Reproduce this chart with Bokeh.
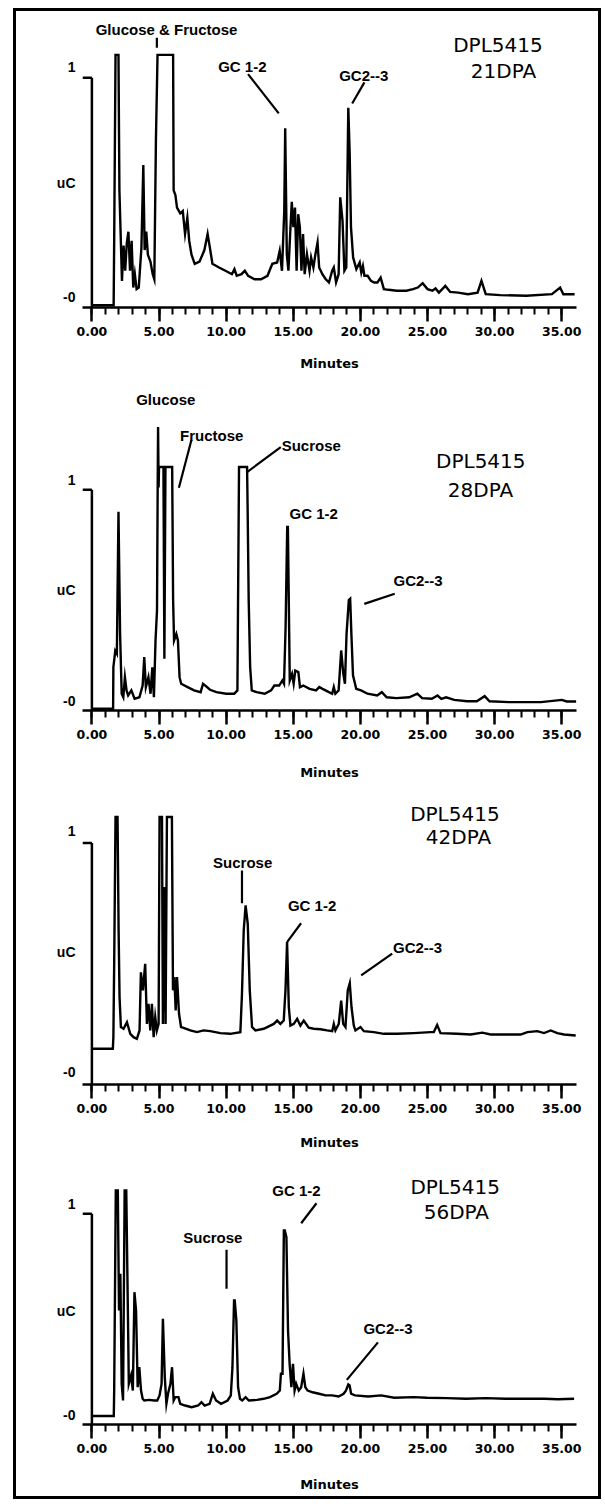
from bokeh.plotting import figure
from bokeh.layouts import column
from bokeh.models import FixedTicker, Range1d, NumeralTickFormatter, LinearAxis
from bokeh.core.properties import value
from bokeh.embed import file_html
from bokeh.resources import INLINE

# ---------------- data (minutes, detector response) ----------------
t1 = [0, 1.62, 1.66, 1.76, 1.98, 2.05, 2.24, 2.36, 2.48, 2.6, 2.72, 2.84, 2.96, 3.08, 3.2, 3.33, 3.49,
      3.69, 3.83, 3.93, 4.05, 4.17, 4.36, 4.53, 4.65, 4.77, 4.89, 6.05, 6.09, 6.22, 6.34, 6.58, 6.77,
      6.94, 7.11, 7.25, 7.42, 7.66, 8.02, 8.38, 8.62, 8.79, 8.98, 9.47, 9.95, 10.43, 10.62, 10.79,
      11.15, 11.39, 11.64, 12.12, 12.6, 13.08, 13.44, 13.8, 13.99, 14.16, 14.33, 14.4, 14.52, 14.64,
      14.77, 14.89, 15.01, 15.13, 15.25, 15.37, 15.49, 15.61, 15.73, 15.85, 16.02, 16.21, 16.33, 16.5,
      16.65, 16.81, 16.93, 17.17, 17.42, 17.66, 17.9, 18.02, 18.19, 18.38, 18.5, 18.67, 18.81, 18.95,
      19.1, 19.2, 19.3, 19.46, 19.7, 19.95, 20.07, 20.19, 20.3, 20.54, 20.79, 21.03, 21.27, 21.51,
      21.75, 22.11, 22.71, 23.43, 23.92, 24.28, 24.64, 25.0, 25.36, 25.6, 25.85, 26.33, 26.69, 27.29,
      28.01, 28.73, 29.02, 29.34, 30.42, 32.35, 34.27, 34.88, 35.12, 35.96]
u1 = [0.01, 0.01, 0.29, 1.10, 1.10, 0.51, 0.116, 0.27, 0.16, 0.28, 0.33, 0.16, 0.29, 0.087, 0.145, 0.08,
      0.087, 0.26, 0.62, 0.25, 0.33, 0.23, 0.2, 0.145, 0.123, 0.73, 1.10, 1.10, 0.51, 0.49, 0.435, 0.41,
      0.42, 0.32, 0.39, 0.29, 0.23, 0.19, 0.2, 0.25, 0.32, 0.26, 0.19, 0.174, 0.16, 0.145, 0.167, 0.138,
      0.145, 0.16, 0.138, 0.123, 0.123, 0.138, 0.19, 0.196, 0.247, 0.16, 0.42, 0.78, 0.232, 0.16,
      0.32, 0.46, 0.35, 0.435, 0.16, 0.406, 0.35, 0.16, 0.32, 0.145, 0.232, 0.16, 0.218, 0.174,
      0.232, 0.283, 0.174, 0.145, 0.123, 0.109, 0.16, 0.174, 0.109, 0.145, 0.48, 0.377, 0.16, 0.174,
      0.87, 0.68, 0.35, 0.218, 0.167, 0.196, 0.152, 0.18, 0.138, 0.138, 0.116, 0.109, 0.109, 0.13,
      0.08, 0.077, 0.073, 0.073, 0.08, 0.087, 0.106, 0.08, 0.073, 0.083, 0.065, 0.094, 0.068, 0.065,
      0.058, 0.065, 0.116, 0.058, 0.054, 0.051, 0.058, 0.087, 0.058, 0.058]

t2 = [0, 1.58, 1.6, 1.74, 1.86, 1.98, 2.1, 2.22, 2.34, 2.46, 2.58, 2.7, 2.94, 3.18, 3.54, 3.78, 3.9,
      4.02, 4.21, 4.37, 4.5, 4.62, 4.74, 4.85, 4.9, 4.93, 4.97, 5.0, 5.33, 5.4, 5.48, 5.98, 6.05, 6.12,
      6.29, 6.41, 6.53, 6.65, 7.13, 7.61, 8.1, 8.28, 8.45, 8.8, 9.28, 10.0, 10.6, 10.84, 10.96, 11.56,
      11.6, 11.68, 11.79, 11.91, 12.27, 12.87, 13.35, 13.59, 13.95, 14.19, 14.31, 14.43, 14.55, 14.6,
      14.74, 14.91, 15.03, 15.15, 15.38, 15.5, 15.74, 16.22, 16.7, 16.94, 17.18, 17.66, 17.9, 18.02,
      18.14, 18.38, 18.57, 18.73, 18.85, 18.97, 19.14, 19.24, 19.33, 19.45, 19.69, 20.05, 20.53, 21.25,
      21.6, 21.96, 22.68, 23.64, 24.24, 24.6, 25.32, 25.75, 26.03, 26.39, 26.99, 27.95, 28.67, 29.26,
      29.62, 31.06, 33.45, 35.01, 35.37, 36.08]
u2 = [0.008, 0.008, 0.196, 0.27, 0.257, 0.9, 0.347, 0.076, 0.06, 0.151, 0.091, 0.068, 0.091, 0.053,
      0.06, 0.113, 0.242, 0.106, 0.151, 0.076, 0.196, 0.06, 0.317, 0.453, 1.01, 1.284, 1.01, 1.103,
      1.103, 0.234, 1.103, 1.103, 0.5, 0.317, 0.347, 0.317, 0.151, 0.121, 0.106, 0.091, 0.083, 0.121,
      0.113, 0.094, 0.083, 0.076, 0.076, 0.091, 1.103, 1.103, 0.92, 0.5, 0.196, 0.091, 0.083, 0.076,
      0.091, 0.113, 0.113, 0.136, 0.121, 0.378, 0.831, 0.831, 0.136, 0.166, 0.121, 0.181, 0.174,
      0.106, 0.113, 0.098, 0.091, 0.106, 0.098, 0.083, 0.076, 0.106, 0.076, 0.091, 0.272, 0.166,
      0.121, 0.347, 0.5, 0.506, 0.347, 0.159, 0.098, 0.091, 0.076, 0.068, 0.083, 0.06, 0.056, 0.06,
      0.076, 0.056, 0.053, 0.068, 0.053, 0.06, 0.048, 0.042, 0.042, 0.065, 0.042, 0.038, 0.038,
      0.048, 0.041, 0.041]

t3 = [0, 1.56, 1.6, 1.66, 1.76, 1.91, 1.99, 2.06, 2.16, 2.36, 2.61, 2.86, 3.1, 3.35, 3.55, 3.65, 3.8,
      3.97, 4.1, 4.22, 4.35, 4.47, 4.6, 4.72, 4.84, 4.97, 5.04, 5.22, 5.29, 5.39, 5.49, 5.59, 5.96,
      6.04, 6.14, 6.24, 6.34, 6.49, 6.64, 6.83, 7.33, 7.83, 8.32, 8.82, 9.57, 10.31, 11.06, 11.18,
      11.31, 11.45, 11.61, 11.76, 11.93, 12.18, 12.8, 13.55, 13.8, 14.04, 14.29, 14.42, 14.54, 14.67,
      14.79, 15.04, 15.29, 15.53, 15.78, 16.15, 16.53, 17.03, 17.52, 17.9, 18.02, 18.14, 18.39, 18.57,
      18.72, 18.89, 19.06, 19.21, 19.34, 19.51, 19.63, 20.01, 20.26, 21.0, 21.75, 22.74, 23.98,
      25.23, 25.47, 25.72, 25.97, 27.22, 28.21, 29.08, 29.7, 30.7, 31.94, 32.44, 33.18, 33.68,
      34.18, 34.67, 35.17, 36.04]
u3 = [0.148, 0.148, 0.196, 0.5, 1.108, 1.108, 0.638, 0.362, 0.238, 0.231, 0.258, 0.21, 0.196, 0.189,
      0.224, 0.465, 0.39, 0.5, 0.251, 0.334, 0.224, 0.334, 0.196, 0.279, 0.224, 0.251, 1.108, 1.108,
      0.251, 0.818, 0.251, 1.108, 1.108, 0.39, 0.445, 0.307, 0.445, 0.293, 0.238, 0.235, 0.224, 0.217,
      0.224, 0.221, 0.213, 0.21, 0.217, 0.376, 0.638, 0.742, 0.666, 0.39, 0.238, 0.224, 0.231, 0.251,
      0.265, 0.251, 0.265, 0.39, 0.59, 0.32, 0.244, 0.251, 0.272, 0.244, 0.265, 0.235, 0.231, 0.229,
      0.224, 0.221, 0.251, 0.224, 0.251, 0.348, 0.251, 0.238, 0.39, 0.42, 0.32, 0.244, 0.224, 0.238,
      0.221, 0.217, 0.21, 0.21, 0.213, 0.217, 0.217, 0.247, 0.213, 0.21, 0.207, 0.215, 0.207, 0.207,
      0.207, 0.217, 0.221, 0.213, 0.224, 0.213, 0.207, 0.203]

t4 = [0, 1.63, 1.66, 1.78, 1.93, 2.02, 2.12, 2.22, 2.32, 2.44, 2.56, 2.68, 2.75, 2.92, 3.05, 3.17, 3.29,
      3.41, 3.53, 3.66, 3.78, 3.9, 4.26, 4.63, 4.87, 5.04, 5.19, 5.29, 5.43, 5.55, 5.67, 5.85, 5.97,
      6.09, 6.21, 6.45, 6.58, 6.94, 7.43, 7.92, 8.16, 8.4, 8.77, 9.01, 9.25, 9.62, 10.11, 10.35, 10.47,
      10.59, 10.64, 10.76, 10.89, 11.03, 11.2, 11.45, 11.69, 12.3, 12.79, 13.27, 13.76, 14.0, 14.08,
      14.2, 14.3, 14.37, 14.49, 14.61, 14.73, 14.86, 14.98, 15.1, 15.22, 15.41, 15.59, 15.76, 15.9,
      16.07, 16.44, 16.92, 17.41, 17.9, 18.38, 18.75, 18.92, 19.1, 19.2, 19.31, 19.6, 20.58, 21.55,
      22.52, 23.98, 24.96, 26.42, 27.88, 29.34, 30.81, 32.27, 33.73, 34.7, 35.92]
u4 = [0.04, 0.04, 0.161, 1.111, 1.111, 0.541, 0.715, 0.193, 0.114, 1.111, 1.111, 0.541, 0.193, 0.233,
      0.161, 0.628, 0.541, 0.177, 0.272, 0.161, 0.122, 0.114, 0.117, 0.114, 0.114, 0.138, 0.193, 0.502,
      0.225, 0.098, 0.146, 0.193, 0.272, 0.114, 0.13, 0.13, 0.098, 0.09, 0.082, 0.09, 0.106, 0.09,
      0.098, 0.146, 0.114, 0.098, 0.114, 0.138, 0.272, 0.589, 0.589, 0.494, 0.177, 0.122, 0.114, 0.13,
      0.114, 0.117, 0.122, 0.13, 0.146, 0.161, 0.241, 0.241, 0.921, 0.921, 0.889, 0.446, 0.288, 0.177,
      0.288, 0.161, 0.193, 0.161, 0.177, 0.241, 0.177, 0.161, 0.153, 0.146, 0.138, 0.138, 0.133,
      0.146, 0.161, 0.19, 0.185, 0.146, 0.138, 0.133, 0.138, 0.127, 0.13, 0.127, 0.125, 0.122, 0.125,
      0.122, 0.122, 0.122, 0.12, 0.122]

# peak labels (text, x, y) and leader lines (x0, y0, x1, y1)
lab1_text = ["Glucose & Fructose", "GC 1-2", "GC2--3"]
lab1_x = [5.56, 11.21, 20.25]
lab1_y = [1.212, 1.048, 1.01]
lead1 = dict(x0=[4.84, 11.63, 20.30], y0=[1.174, 1.016, 0.98], x1=[4.84, 13.92, 19.39], y1=[1.131, 0.845, 0.888])

lab2_text = ["Glucose", "Fructose", "Sucrose", "GC 1-2", "GC2--3"]
lab2_x = [5.5, 8.92, 16.34, 16.52, 24.3]
lab2_y = [1.41, 1.246, 1.202, 0.891, 0.589]
lead2 = dict(x0=[7.42, 14.07, 22.56], y0=[1.227, 1.193, 0.529], x1=[6.48, 11.56, 20.29], y1=[1.009, 1.08, 0.483])

lab3_text = ["Sucrose", "GC 1-2", "GC2--3"]
lab3_x = [11.23, 16.4, 24.26]
lab3_y = [0.919, 0.74, 0.569]
lead3 = dict(x0=[11.18, 15.58, 22.37], y0=[0.887, 0.668, 0.542], x1=[11.18, 14.54, 20.06], y1=[0.751, 0.59, 0.452])

lab4_text = ["GC 1-2", "Sucrose", "GC2--3"]
lab4_x = [15.24, 9.01, 22.06]
lab4_y = [1.11, 0.886, 0.454]
lead4 = dict(x0=[16.73, 10.03, 21.31], y0=[1.05, 0.829, 0.39], x1=[15.59, 10.03, 18.99], y1=[0.955, 0.644, 0.212])

cultivar = "DPL5415"
stages = ["21DPA", "28DPA", "42DPA", "56DPA"]
title_pos = [  # (x1, y1, x2, y2)
    (30.25, 1.144, 30.66, 1.03),
    (28.97, 1.13, 28.95, 1.0),
    (27.04, 1.122, 27.31, 1.025),
    (27.06, 1.126, 27.15, 1.008),
]
# y-axis label heights: "1", "uC", "-0"
ylab_text = ["1", "uC", "-0"]
ylab_pos = [
    (1.045, 0.54, 0.044),
    (1.042, 0.544, 0.045),
    (1.05, 0.548, 0.051),
    (1.047, 0.541, 0.043),
]

major_ticks = [0, 5, 10, 15, 20, 25, 30, 35]
minor_ticks = list(range(0, 36))

# layout per panel: height, min borders (top, bottom, left, right), y top, axis label standoff
geo = [
    dict(h=365, bt=3, bb=69, bl=57, br=16, ytop=1.2756, als=17),
    dict(h=410, bt=4, bb=76, bl=55, br=14, ytop=1.495, als=23),
    dict(h=370, bt=4, bb=72, bl=66, br=22, ytop=1.218, als=19),
    dict(h=340, bt=6, bb=72, bl=63, br=15, ytop=1.2435, als=21),
]

traces = [(t1, u1), (t2, u2), (t3, u3), (t4, u4)]
labels = [(lab1_text, lab1_x, lab1_y, lead1), (lab2_text, lab2_x, lab2_y, lead2),
          (lab3_text, lab3_x, lab3_y, lead3), (lab4_text, lab4_x, lab4_y, lead4)]

W = 582
XMIN, XMAX = -0.7, 36.1
figs = []
for i in range(4):
    g = geo[i]
    p = figure(width=W, height=g["h"], output_backend="svg", toolbar_location=None,
               x_range=Range1d(XMIN, XMAX), y_range=Range1d(0, g["ytop"]),
               y_axis_location=None, min_border_top=g["bt"], min_border_bottom=g["bb"],
               min_border_left=g["bl"], min_border_right=g["br"])
    p.grid.visible = False
    p.outline_line_color = None
    p.background_fill_color = "white"
    p.border_fill_color = "white"

    ax = p.xaxis[0]
    ax.ticker = FixedTicker(ticks=major_ticks, minor_ticks=minor_ticks)
    ax.formatter = NumeralTickFormatter(format="0.00")
    ax.axis_line_width = 2.5
    ax.axis_line_color = "black"
    ax.major_tick_in = 0
    ax.major_tick_out = 14
    ax.major_tick_line_width = 2.5
    ax.major_tick_line_color = "black"
    ax.minor_tick_in = 0
    ax.minor_tick_out = 7
    ax.minor_tick_line_width = 2
    ax.minor_tick_line_color = "black"
    ax.major_label_standoff = 5
    ax.major_label_text_font = "DejaVu Sans"
    ax.major_label_text_font_style = "bold"
    ax.major_label_text_font_size = "12.5px"
    ax.major_label_text_color = "black"
    ax.axis_label = "Minutes"
    ax.axis_label_text_font = "DejaVu Sans"
    ax.axis_label_text_font_style = "bold"
    ax.axis_label_text_font_size = "13px"
    ax.axis_label_text_color = "black"
    ax.axis_label_standoff = g["als"]

    # left labels "1", "uC", "-0"
    yt = list(ylab_pos[i])
    overrides = {}
    for v, s in zip(yt, ylab_text):
        overrides[v] = s
        overrides[str(v)] = s
    yax = LinearAxis(ticker=FixedTicker(ticks=yt, minor_ticks=[]), major_label_overrides=overrides)
    yax.axis_line_color = None
    yax.major_tick_line_color = None
    yax.minor_tick_line_color = None
    yax.major_tick_in = 0
    yax.major_tick_out = 0
    yax.minor_tick_out = 0
    yax.major_label_standoff = 7
    yax.major_label_text_font = "Liberation Sans"
    yax.major_label_text_font_style = "bold"
    yax.major_label_text_font_size = "14px"
    yax.major_label_text_color = "black"
    p.add_layout(yax, "left")

    # y axis line (0..1) and its top tick
    p.segment(x0=[0], y0=[0], x1=[0], y1=[1], line_color="black", line_width=2.5)
    p.segment(x0=[XMIN], y0=[1], x1=[0], y1=[1], line_color="black", line_width=2.5)

    t, u = traces[i]
    p.line(t, u, line_color="black", line_width=2.4, line_join="miter")

    lt, lx, ly, ld = labels[i]
    p.segment(x0=ld["x0"], y0=ld["y0"], x1=ld["x1"], y1=ld["y1"], line_color="black", line_width=2.2)
    p.text(x=lx, y=ly, text=lt, text_font=value("Liberation Sans"), text_font_style="bold",
           text_font_size="15px", text_align="center", text_baseline="middle", text_color="black")

    x1_, y1_, x2_, y2_ = title_pos[i]
    p.text(x=[x1_, x2_], y=[y1_, y2_], text=[cultivar, stages[i]], text_font=value("DejaVu Sans"),
           text_font_size="20px", text_align="center", text_baseline="middle", text_color="black")
    figs.append(p)

layout = column(*figs, styles={"border": "3px solid black", "margin-left": "13px", "margin-top": "8px"})
open("out.html", "w").write(file_html(layout, INLINE))
